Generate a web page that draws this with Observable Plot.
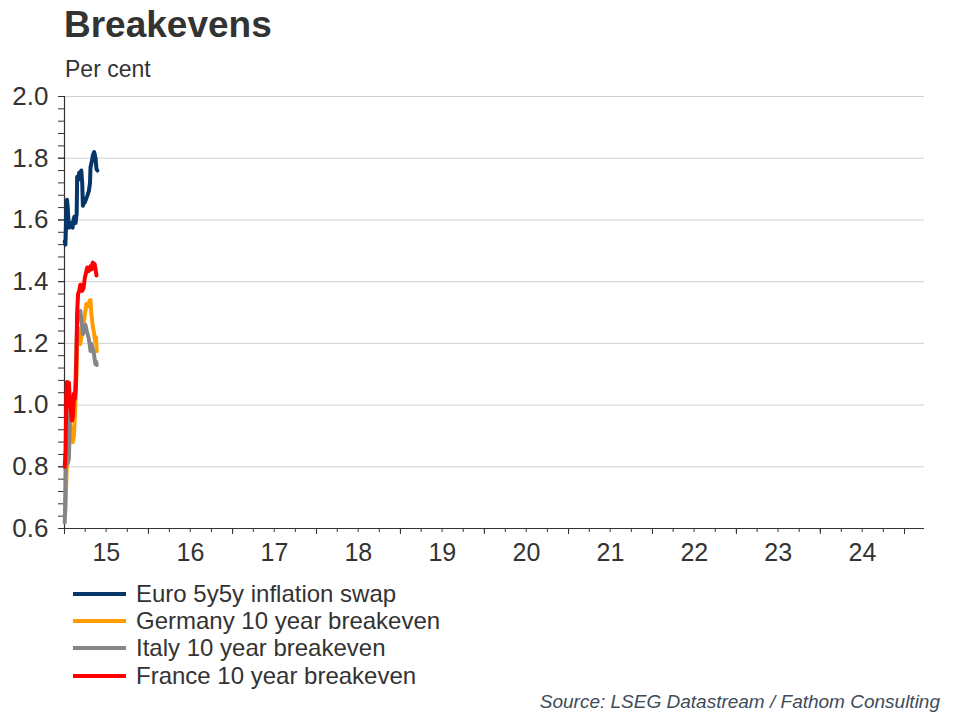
<!DOCTYPE html>
<html>
<head>
<meta charset="utf-8">
<script src="https://cdn.jsdelivr.net/npm/d3@7"></script>
<script src="https://cdn.jsdelivr.net/npm/@observablehq/plot@0.6"></script>
<style>
  html, body { margin: 0; padding: 0; background: #fff; }
  #wrap { position: relative; width: 960px; height: 720px; overflow: hidden; font-family: "Liberation Sans", Arial, sans-serif; color: #333; }
  #title { position: absolute; left: 64px; top: 4px; font-size: 37px; font-weight: bold; color: #333; }
  #subtitle { position: absolute; left: 65px; top: 56px; font-size: 23px; color: #333; }
  #chart { position: absolute; left: 0; top: 80px; }
  #legend { position: absolute; left: 73px; top: 580px; }
  .row { height: 27.3px; display: flex; align-items: center; font-size: 24px; color: #333; }
  .sw { width: 53px; height: 4px; margin-right: 10px; }
  #source { position: absolute; right: 20px; top: 691px; font-size: 19px; font-style: italic; color: #3e4c59; }
</style>
</head>
<body>
<div id="wrap">
  <div id="title">Breakevens</div>
  <div id="subtitle">Per cent</div>
  <div id="chart"></div>
  <div id="legend"></div>
  <div id="source">Source: LSEG Datastream / Fathom Consulting</div>
</div>
<script>
// ---- Data ----
const seriesNames = ["Euro 5y5y inflation swap", "Germany 10 year breakeven", "Italy 10 year breakeven", "France 10 year breakeven"];
const seriesColors = ["#04366a", "#ff9c00", "#858585", "#ff0000"];

const euroDates = ["2015-01-02","2015-01-05","2015-01-08","2015-01-12","2015-01-15","2015-01-20","2015-01-26","2015-01-30","2015-02-05","2015-02-09","2015-02-13","2015-02-18","2015-02-23","2015-02-25","2015-03-02","2015-03-06","2015-03-11","2015-03-15","2015-03-19","2015-03-22","2015-03-26","2015-03-30","2015-04-06","2015-04-10","2015-04-17","2015-04-22","2015-04-24","2015-04-30","2015-05-04","2015-05-10","2015-05-16","2015-05-20","2015-05-24"];
const euroValues = [1.53,1.52,1.60,1.665,1.64,1.575,1.59,1.58,1.575,1.60,1.61,1.59,1.62,1.74,1.73,1.754,1.74,1.76,1.72,1.646,1.66,1.656,1.67,1.678,1.694,1.72,1.77,1.79,1.808,1.82,1.80,1.765,1.76];

const germanyDates = ["2015-01-02","2015-01-05","2015-01-09","2015-01-13","2015-01-18","2015-01-23","2015-01-28","2015-02-02","2015-02-06","2015-02-11","2015-02-16","2015-02-21","2015-02-25","2015-03-02","2015-03-06","2015-03-11","2015-03-15","2015-03-21","2015-03-26","2015-04-01","2015-04-06","2015-04-13","2015-04-20","2015-04-24","2015-04-28","2015-05-03","2015-05-08","2015-05-14","2015-05-18","2015-05-21"];
const germanyValues = [0.64,0.66,0.76,0.84,0.82,0.90,0.93,0.92,0.88,0.90,0.98,1.08,1.20,1.25,1.23,1.198,1.22,1.24,1.27,1.30,1.328,1.32,1.338,1.34,1.295,1.26,1.24,1.208,1.22,1.175];

const italyDates = ["2015-01-02","2015-01-04","2015-01-06","2015-01-10","2015-01-15","2015-01-20","2015-01-26","2015-01-30","2015-02-03","2015-02-08","2015-02-13","2015-02-18","2015-02-22","2015-02-26","2015-03-02","2015-03-07","2015-03-11","2015-03-16","2015-03-22","2015-03-27","2015-04-02","2015-04-08","2015-04-15","2015-04-20","2015-04-24","2015-04-29","2015-05-04","2015-05-09","2015-05-15","2015-05-19","2015-05-21"];
const italyValues = [0.62,0.68,0.80,0.82,0.81,0.83,0.99,0.97,0.96,0.98,1.02,1.08,1.18,1.29,1.30,1.28,1.305,1.27,1.23,1.25,1.26,1.24,1.22,1.20,1.175,1.198,1.18,1.166,1.133,1.14,1.13];

const franceDates = ["2015-01-02","2015-01-06","2015-01-09","2015-01-12","2015-01-16","2015-01-20","2015-01-25","2015-01-30","2015-02-03","2015-02-06","2015-02-10","2015-02-14","2015-02-19","2015-02-22","2015-02-25","2015-03-01","2015-03-06","2015-03-11","2015-03-15","2015-03-19","2015-03-25","2015-03-30","2015-04-05","2015-04-10","2015-04-17","2015-04-24","2015-04-29","2015-05-04","2015-05-08","2015-05-12","2015-05-16","2015-05-20"];
const franceValues = [0.80,0.86,1.03,1.075,1.07,1.073,1.00,0.97,0.95,0.96,1.036,1.02,1.05,1.16,1.30,1.36,1.37,1.39,1.385,1.37,1.38,1.41,1.43,1.446,1.435,1.45,1.44,1.462,1.455,1.457,1.44,1.42];

const yTickLabels = [0.6, 0.8, 1.0, 1.2, 1.4, 1.6, 1.8, 2.0];
const xYearLabels = [2015, 2016, 2017, 2018, 2019, 2020, 2021, 2022, 2023, 2024];

// ---- Build table ----
const seriesDates = [euroDates, germanyDates, italyDates, franceDates];
const seriesValues = [euroValues, germanyValues, italyValues, franceValues];
const data = [];
seriesNames.forEach((name, i) => {
  seriesDates[i].forEach((d, j) => data.push({series: name, date: new Date(d + "T00:00:00Z"), value: seriesValues[i][j]}));
});

const xStart = new Date(Date.UTC(2015, 0, 1));
const xEnd = new Date(Date.UTC(2025, 2, 29));
const yearTicks = d3.utcYear.range(xStart, xEnd);
const quarterTicks = d3.utcMonth.every(3).range(xStart, xEnd);
const midYears = xYearLabels.map(y => new Date(Date.UTC(y, 6, 2)));
const yMinor = d3.range(0, 36).map(i => +(0.6 + i * 0.04).toFixed(2));

const plot = Plot.plot({
  width: 960,
  height: 490,
  marginTop: 16,
  marginLeft: 64,
  marginRight: 36,
  marginBottom: 42,
  style: {fontFamily: "'Liberation Sans', Arial, sans-serif", color: "#333", background: "transparent", overflow: "visible"},
  x: {type: "utc", domain: [xStart, xEnd], label: null},
  y: {domain: [0.6, 2.0], label: null},
  color: {domain: seriesNames, range: seriesColors},
  marks: [
    Plot.gridY(yTickLabels.filter(d => d > 0.6), {stroke: "#cfcfcf", strokeOpacity: 1, strokeWidth: 1}),
    Plot.axisY(yMinor, {tickSize: 6, tickFormat: () => "", label: null, stroke: "#333"}),
    Plot.axisY(yTickLabels, {tickSize: 6, tickPadding: 10, fontSize: 26, tickFormat: d3.format(".1f"), label: null, stroke: "#333", fill: "#333"}),
    Plot.axisX(quarterTicks, {tickSize: 4, tickFormat: () => "", label: null, stroke: "#333"}),
    Plot.axisX(yearTicks, {tickSize: 6, tickFormat: () => "", label: null, stroke: "#333"}),
    Plot.axisX(midYears, {tickSize: 0, tickPadding: 15, fontSize: 25, tickFormat: d3.utcFormat("%y"), label: null, fill: "#333"}),
    Plot.ruleX([xStart], {stroke: "#333", strokeWidth: 1.2}),
    Plot.ruleY([0.6], {stroke: "#333", strokeWidth: 1.2}),
    Plot.line(data, {x: "date", y: "value", z: "series", stroke: "series", strokeWidth: 4, strokeLinejoin: "round", strokeLinecap: "round"})
  ]
});
document.getElementById("chart").appendChild(plot);

// ---- Legend ----
const legend = document.getElementById("legend");
seriesNames.forEach((name, i) => {
  const row = document.createElement("div");
  row.className = "row";
  const sw = document.createElement("span");
  sw.className = "sw";
  sw.style.background = seriesColors[i];
  const tx = document.createElement("span");
  tx.textContent = name;
  row.appendChild(sw);
  row.appendChild(tx);
  legend.appendChild(row);
});
</script>
</body>
</html>
